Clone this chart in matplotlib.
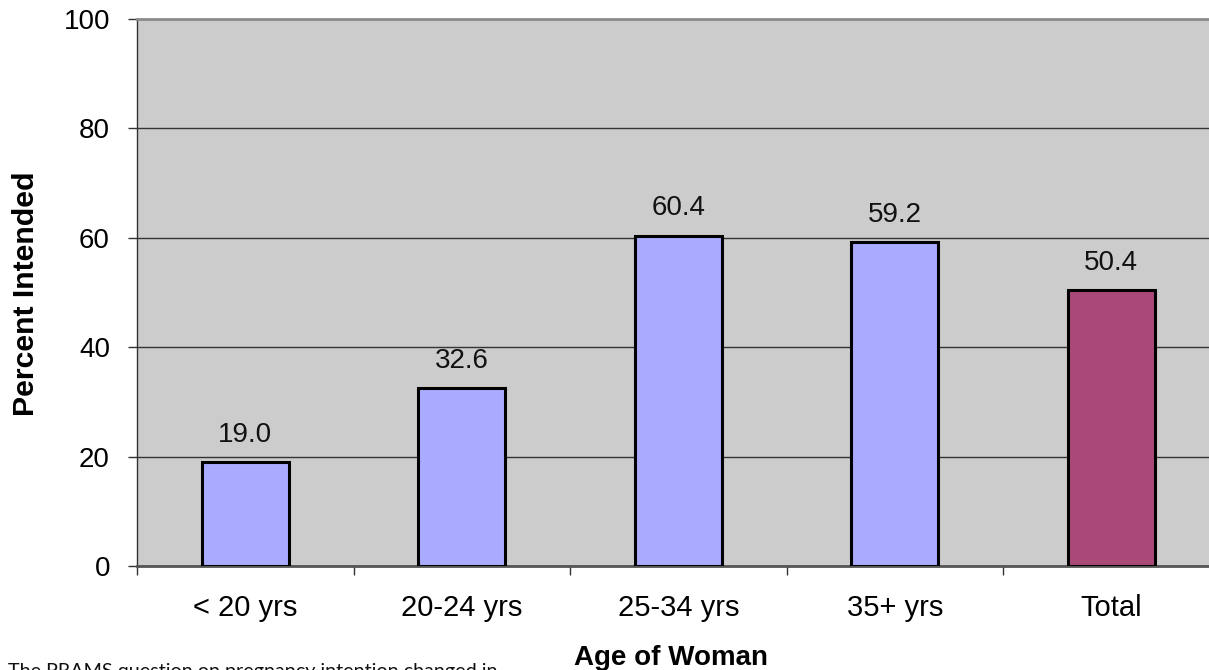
import matplotlib
matplotlib.use("Agg")
import matplotlib.pyplot as plt
from matplotlib.ticker import FixedLocator

# Percent of pregnancies intended, by age of woman
categories = ["< 20 yrs", "20-24 yrs", "25-34 yrs", "35+ yrs", "Total"]
percent_intended = [19.0, 32.6, 60.4, 59.2, 50.4]
bar_colors = ["#AAAAFF", "#AAAAFF", "#AAAAFF", "#AAAAFF", "#AA4977"]
y_ticks = [0, 20, 40, 60, 80, 100]

W, H = 1209, 670
fig = plt.figure(figsize=(W / 100, H / 100), dpi=100)
font = ["Liberation Sans", "DejaVu Sans"]

left, right, top, bottom = 137, 1219.5, 19, 566
ax = fig.add_axes([left / W, 1 - bottom / H, (right - left) / W, (bottom - top) / H])
ax.set_facecolor("#CCCCCC")

x = range(len(categories))
ax.bar(x, percent_intended, width=0.4, color=bar_colors,
       edgecolor="black", linewidth=2.2, zorder=3)

for xi, v in zip(x, percent_intended):
    ax.annotate(f"{v:.1f}", (xi, v), xytext=(0, 14.5), textcoords="offset points",
                ha="center", va="baseline", fontsize=20, family=font, color="#111111")

ax.set_xlim(-0.5, len(categories) - 0.5)
ax.set_ylim(0, 100)
ax.set_yticks(y_ticks)
ax.set_yticklabels([str(t) for t in y_ticks], family=font, fontsize=20)
ax.yaxis.grid(True, color="#333333", linewidth=1.0, zorder=0)
ax.set_axisbelow(True)

ax.set_xticks(list(x))
ax.set_xticklabels(categories, family=font, fontsize=21)
ax.xaxis.set_minor_locator(FixedLocator([i - 0.5 for i in range(len(categories))]))
ax.tick_params(axis="x", which="major", length=0, pad=20.5)
ax.tick_params(axis="x", which="minor", length=6.5, width=1, direction="out", color="#333333")
ax.tick_params(axis="y", length=6.5, width=1, direction="out", pad=13, color="#333333")

ax.spines["top"].set_color("#8C8C8C")
ax.spines["top"].set_linewidth(2)
ax.spines["right"].set_visible(False)
ax.spines["left"].set_color("#333333")
ax.spines["left"].set_linewidth(1)
ax.spines["bottom"].set_color("#555555")
ax.spines["bottom"].set_linewidth(2)

fig.text(26 / W, 1 - 294 / H, "Percent Intended", rotation=90, ha="center", va="center",
         fontsize=21.8, fontweight="bold", family=font)
fig.text(671 / W, 5 / H, "Age of Woman", ha="center", va="baseline",
         fontsize=20, fontweight="bold", family=font)
fig.text(8 / W, -7.5 / H, "The PRAMS question on pregnancy intention changed in",
         ha="left", va="baseline", fontsize=14.2, family=["Lato", "DejaVu Sans"], color="#111111")

fig.savefig("out.png", dpi=100)
